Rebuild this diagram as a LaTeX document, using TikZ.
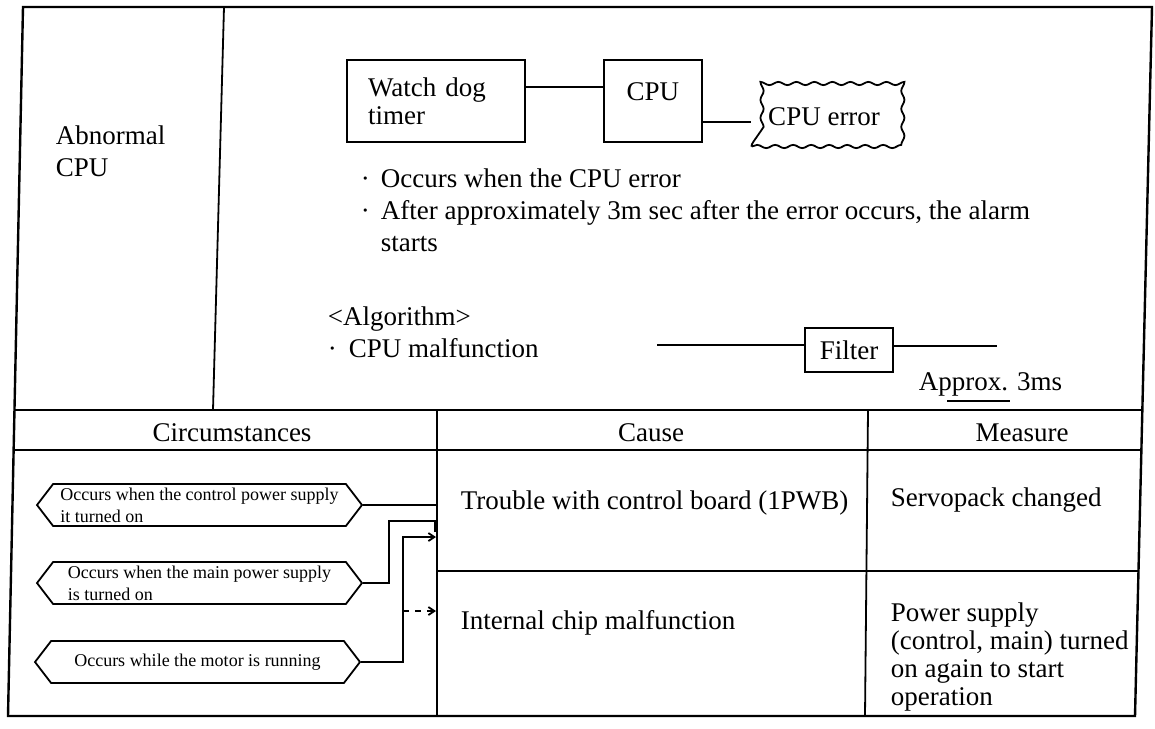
\documentclass[tikz,border=0pt]{standalone}
\usepackage{fontspec}
\setmainfont{Liberation Serif}
\usetikzlibrary{arrows.meta,positioning,calc,shapes.symbols,decorations.pathmorphing}

\begin{document}
\begin{tikzpicture}[
  x=0.5pt, y=-0.5pt, line width=0.9pt,
  >={Straight Barb[length=3pt,width=4pt]},
  txt/.style={inner sep=0pt, align=left, anchor=west, font=\fontsize{13.5}{16}\selectfont},
  head/.style={inner sep=0pt, anchor=base, font=\fontsize{13.5}{16}\selectfont},
  box/.style={draw, inner sep=0pt, minimum height=41pt, font=\fontsize{13.5}{14}\selectfont},
  errbox/.style={draw, inner sep=0pt, minimum width=72.5pt, minimum height=29.5pt,
    decorate, decoration={snake, segment length=9pt, amplitude=0.8pt}, font=\fontsize{13.5}{14}\selectfont},
  hex/.style={draw, shape=signal, signal to=west and east, signal pointer angle=105,
    minimum width=162.5pt, minimum height=21pt, inner xsep=2pt, inner ysep=1pt,
    align=left, font=\fontsize{9}{11}\selectfont},
  every edge/.style={draw}
]
\useasboundingbox (0,0) rectangle (1155,728);

% frame and table
\coordinate (tl) at (23,7);
\coordinate (tr) at (1152,7);
\coordinate (br) at (1135,716);
\coordinate (bl) at (8,716);
\draw[line width=1.2pt] (tl) -- (tr) -- (br) -- (bl) -- cycle;
\draw (224,7) -- (213,410);
\draw (14.5,410) -- (1142.3,410);
\draw (13.6,450) -- (1141.4,450);
\draw (437,410) -- (437,716);
\draw (868,410) -- (865,716);
\draw (437,571) -- (1138.5,571);

% upper part
\node[txt] (abn) at (55,151) {Abnormal\\CPU};

\node[box, minimum width=89pt, text width=68pt, align=left] (wdt) at (436,101) {Watch dog\\timer};
\node[box, minimum width=49pt, text depth=9pt, right=38.5pt of wdt] (cpu) {CPU};
\node[errbox, right=24pt of cpu, yshift=-8pt] (err) {CPU error};
\draw ([yshift=7pt]wdt.east) edge ([yshift=7pt]cpu.west);
\draw ([yshift=-10.5pt]cpu.east) edge ([yshift=-2.5pt]err.west);

\node[txt] (note) at (360,210) {\makebox[10pt][l]{·}Occurs when the CPU error\\
  \makebox[10pt][l]{·}After approximately 3m sec after the error occurs, the alarm\\
  \hspace*{10pt}starts};

\node[txt] (algo) at (327,332.5) {\textless Algorithm\textgreater\\
  \makebox[10.5pt][l]{·}CPU malfunction};

\node[box, minimum width=44pt, minimum height=22pt] (flt) at (849,350) {Filter};
\coordinate (fin) at (657,345);
\coordinate (fout) at (997,346);
\draw (fin) edge (fin -| flt.west);
\draw (flt.east |- fout) edge (fout);
\node[txt] (aprx) at (918,384) {Approx. 3ms};
\coordinate (ul) at (947,401);
\draw (ul) -- ++(63,0);

% header row
\node[head] (hcir) at (232,441) {Circumstances};
\node[head] (hcau) at (651,441) {Cause};
\node[head] (hmea) at (1022,441) {Measure};

% circumstances
\node[hex] (h1) at (199.5,505) {Occurs when the control power supply\\ it turned on};
\node[hex] (h2) at (199.5,583) {Occurs when the main power supply\\is turned on};
\node[hex] (h3) at (197.5,662) {Occurs while the motor is running};

\coordinate (c1) at (437,505);
\coordinate (c2a) at (435,521);
\coordinate (c2) at (435,532);
\coordinate (c3) at (436,537);
\coordinate (c4) at (436,611);
\draw (h1.east) -- (c1);
\draw (h2.east) -- ++(13pt,0) |- (c2a) -- (c2);
\draw[->] (h3.east) -- ++(21pt,0) coordinate (j3) |- (c3);
\draw[->, dashed] (j3 |- c4) -- (c4);

% causes and measures
\node[txt] (cau1) at (460,503) {Trouble with control board (1PWB)};
\node[txt] (mea1) at (890,500) {Servopack changed};
\node[txt] (cau2) at (460,623) {Internal chip malfunction};
\node[txt, font=\fontsize{13.5}{14}\selectfont] (mea2) at (890,657) {Power supply\\(control, main) turned\\on again to start\\operation};
\end{tikzpicture}
\end{document}
